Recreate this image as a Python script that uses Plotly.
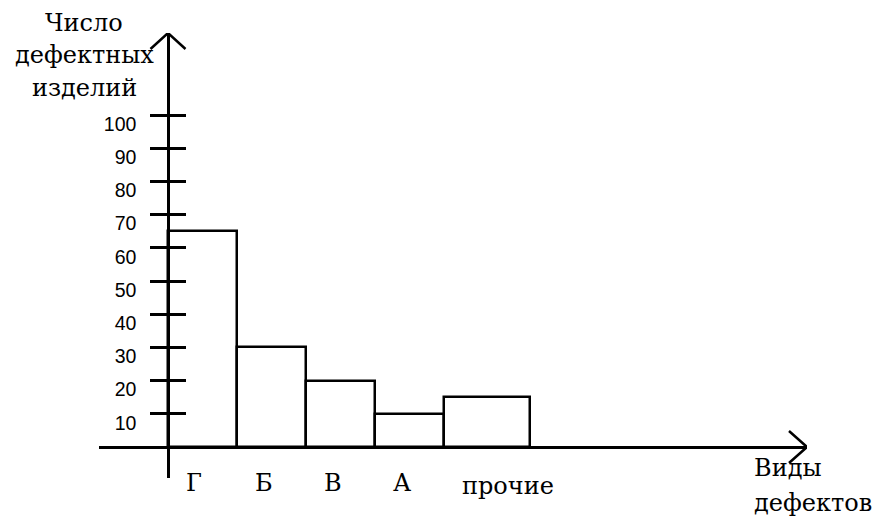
import plotly.graph_objects as go

# ---- data ----
categories = ["Г", "Б", "В", "А", "прочие"]
defect_counts = [65, 30, 20, 10, 15]
y_ticks = [10, 20, 30, 40, 50, 60, 70, 80, 90, 100]
y_title_lines = ["Число", "дефектных", "изделий"]
x_title_lines = ["Виды", "дефектов"]

# ---- geometry (pixels of the 875x518 canvas) ----
W, H = 875, 518
X0PX, XUNIT = 168, 69.0      # pixel of x=0, pixels per bar unit
Y0PX, YUNIT = 447, 3.32      # pixel of y=0, pixels per count
XAX_L, XAX_R = 99, 807       # x-axis line extent
YAX_B, YAX_T = 478, 33       # y-axis line extent

def px2x(p):
    return (p - X0PX) / XUNIT

def py2y(p):
    return (Y0PX - p) / YUNIT

# bar widths: the "other" group is wider
widths = [1.25 if c == "прочие" else 1.0 for c in categories]
lefts = []
acc = 0.0
for w in widths:
    lefts.append(acc)
    acc += w
centers = [l + w / 2 for l, w in zip(lefts, widths)]

LW = 2.5
SERIF = "DejaVu Serif"
SANS = "Liberation Sans, Arial"

fig = go.Figure()
fig.add_trace(go.Bar(
    x=centers, y=defect_counts, width=widths,
    marker=dict(color="white", line=dict(color="black", width=LW)),
    hoverinfo="skip", showlegend=False,
))
# dummy trace so the overlay axis (crossing ticks) is drawn
fig.add_trace(go.Scatter(x=[None], y=[None], yaxis="y2", showlegend=False,
                         hoverinfo="skip"))

ydom = [(H - YAX_B) / H, (H - YAX_T) / H]
yrng = [py2y(YAX_B), py2y(YAX_T)]
ypos = X0PX / W

fig.update_layout(
    width=W, height=H,
    margin=dict(l=0, r=0, t=0, b=0),
    paper_bgcolor="white", plot_bgcolor="white",
    bargap=0,
    xaxis=dict(
        domain=[XAX_L / W, XAX_R / W],
        range=[px2x(XAX_L), px2x(XAX_R)],
        anchor="free", position=(H - Y0PX) / H,
        showline=True, linecolor="black", linewidth=LW,
        showgrid=False, zeroline=False, ticks="", showticklabels=False,
    ),
    yaxis=dict(
        domain=ydom, range=yrng,
        anchor="free", position=ypos,
        showline=True, linecolor="black", linewidth=LW,
        showgrid=False, zeroline=False,
        tickmode="array", tickvals=y_ticks, ticktext=[str(v) for v in y_ticks],
        ticks="outside", ticklen=17, tickwidth=LW, tickcolor="black",
        tickfont=dict(family=SANS, size=19.5, color="black"),
        ticklabelshift=9, ticklabelstandoff=10,
    ),
    yaxis2=dict(
        domain=ydom, range=yrng, overlaying="y",
        anchor="free", position=ypos,
        showline=False, showgrid=False, zeroline=False,
        tickmode="array", tickvals=y_ticks,
        ticks="inside", ticklen=17, tickwidth=LW, tickcolor="black",
        showticklabels=False,
    ),
)

# arrow heads (open chevrons) at the axis ends
fig.add_shape(type="path", xref="x", yref="y",
              xsizemode="pixel", ysizemode="pixel",
              xanchor=0, yanchor=yrng[1],
              path="M -17.5,-16 L 0,0 L 17.5,-16",
              line=dict(color="black", width=LW))
fig.add_shape(type="path", xref="x", yref="y",
              xsizemode="pixel", ysizemode="pixel",
              xanchor=px2x(XAX_R), yanchor=0,
              path="M -18,16 L 0,0 L -18,-16",
              line=dict(color="black", width=LW))

FS = 24
def text_at(txt, px, baseline, xanchor="center", xref="paper", xval=None):
    fig.add_annotation(
        text=txt, showarrow=False,
        xref=xref, x=(px / W) if xval is None else xval, xanchor=xanchor,
        yref="paper", y=1 - (baseline - 0.36 * FS) / H, yanchor="middle",
        font=dict(family=SERIF, size=FS, color="black"),
    )

# y-axis title
for line, base in zip(y_title_lines, [32, 64, 97]):
    text_at(line, 84, base)
# x-axis title
for line, base in zip(x_title_lines, [477, 512]):
    text_at(line, 752, base, xanchor="left")
# category labels, left-aligned a little right of each bar's left edge
for cat, left in zip(categories, lefts):
    base = 495 if cat == "прочие" else 492
    text_at(cat, 0, base, xanchor="left", xref="x", xval=left + 0.23)

fig.write_html("out.html", config={"displayModeBar": False},
               post_script="document.body.style.margin='0';")
